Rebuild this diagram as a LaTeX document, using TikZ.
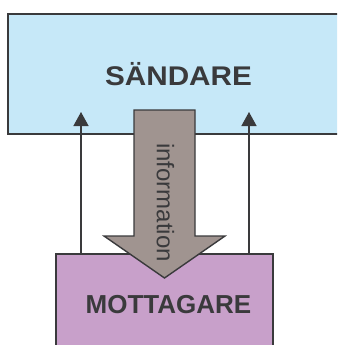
\documentclass[tikz,border=0pt]{standalone}
\usepackage{fontspec}
\setmainfont{Liberation Sans}
\usetikzlibrary{arrows.meta,calc}
\definecolor{senderblue}{RGB}{198,232,248}
\definecolor{receiverpurple}{RGB}{200,160,202}
\definecolor{infogray}{RGB}{160,148,144}
\definecolor{linegray}{RGB}{58,58,60}
\tikzset{
	unitbox/.style={draw=linegray, line width=1.4pt, inner sep=0pt},
	unitlabel/.style={text=linegray, font=\bfseries\fontsize{27}{27}\selectfont, inner sep=0pt},
	feedback/.style={draw=linegray, line width=1.4pt, -{Triangle[length=14pt,width=15pt]}},
	infoarrow/.style={draw=linegray, line width=1.4pt, fill=infogray, line join=miter}
}

\begin{document}
\begin{tikzpicture}[x=1pt, y=-1pt]
        \useasboundingbox (0,0) rectangle (337,345);
        \clip (0,0) rectangle (337,345);

        % Sender
        \node[unitbox, fill=senderblue, minimum width=345pt, minimum height=120pt] (sandare) at (180.5, 74) {};
        \node[unitlabel, anchor=base, xscale=1.1] (sandare_text) at (178.5, 85.7) {SÄNDARE};

        % Receiver
        \node[unitbox, fill=receiverpurple, minimum width=217pt, minimum height=110pt] (mottagare) at (164.5, 309) {};
        \node[unitlabel, anchor=base, font=\bfseries\fontsize{26}{26}\selectfont] (mottagare_text) at (168.5, 313) {MOTTAGARE};

        % Feedback arrows
        \coordinate (fb_left) at (81, 112);
        \coordinate (fb_right) at (249, 112);
        \draw[feedback] (mottagare.north -| fb_left) -- (fb_left);
        \draw[feedback] (mottagare.north -| fb_right) -- (fb_right);

        % Information arrow
        \draw[infoarrow] (134,110) -- (195,110) -- (195,236) -- (225,236) -- (164.5,278)
            -- (104,236) -- (134,236) -- cycle;
        \node[rotate=-90, text=linegray, font=\fontsize{24}{24}\selectfont, inner sep=0pt] (info) at (165.5, 202.5) {information};
\end{tikzpicture}
\end{document}
